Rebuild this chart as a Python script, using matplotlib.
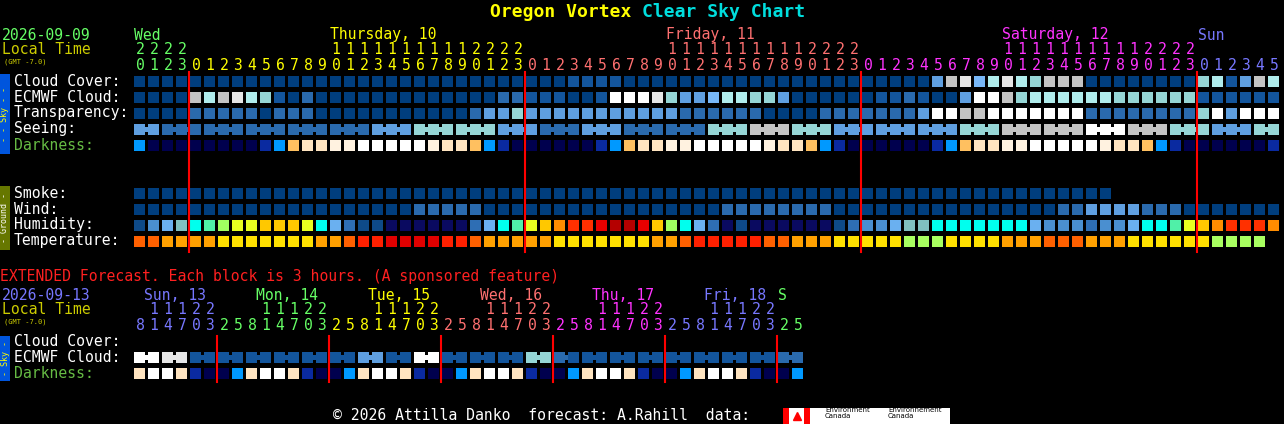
import matplotlib
matplotlib.use('Agg')
import matplotlib.pyplot as plt
from matplotlib.patches import Rectangle

# ---- data (hourly, 82 columns: Wed 20h .. Sun 5h) ----
cloud_cover = [0]*31 + [1]*4 + [0]*22 + [3, 7, 8, 4, 6, 8, 6, 5, 7, 7, 7] + [0]*8 + [5, 6, 1, 3, 7, 6]
ecmwf_cloud = ([0, 0, 0, 0, 7, 6, 7, 8, 6, 5, 1, 0, 2] + [0]*13 + [2, 2]
               + [1, 1, 1, 0, 0, 1, 9, 9, 9, 8, 5, 3, 3, 4, 6, 6, 5, 5, 3] + [0]*6
               + [1, 1, 2, 1, 0, 0, 3, 9, 9, 7, 5] + [6]*6 + [5]*6 + [1]*6)
transparency = ([0, 0, 0, 0, 2, 2, 2, 2, 2, 0, 2, 2, 2] + [0]*11 + [2, 3, 3, 5] + [3]*11
                + [2]*6 + [0]*4 + [2]*7 + [3, 9, 9, 7, 7] + [9]*7 + [2]*8 + [5, 9, 3, 9, 9, 9])
seeing = ([3, 3] + [2]*15 + [3]*3 + [5]*6 + [3]*3 + [2]*3 + [3]*3 + [2]*6 + [5]*3 + [7]*3
          + [5]*3 + [3]*6 + [3]*3 + [5]*3 + [7]*6 + [9]*3 + [7]*3 + [5]*3 + [3]*3 + [5]*2)
seeing_groups = [0, 0] + [g for g in range(1, 28) for _ in range(3)][:80]
darkness = [2, 0, 0, 0, 0, 0, 0, 0, 0, 1, 2, 3, 4, 4, 5, 5, 6, 6, 6, 6, 6, 5, 4, 4, 3, 2, 1, 0,
            0, 0, 0, 0, 0, 1, 2, 3, 4, 4, 5, 5, 6, 6, 6, 6, 6, 5, 4, 4, 3, 2, 1, 0,
            0, 0, 0, 0, 0, 1, 2, 3, 4, 4, 5, 5, 6, 6, 6, 6, 6, 5, 4, 4, 3, 2, 1, 0,
            0, 0, 0, 0, 0, 1]
smoke = [0]*70
wind = [0]*20 + [2]*5 + [0]*17 + [2]*8 + [0]*16 + [2, 2, 3, 3, 3, 3, 2, 2, 2] + [0]*7
humidity = list("DSLGCAYZZOOOZCLMDDNNNNNNMLCAZOPRREKKEOYCL"
                "MNDNNNNNNDMSSLGGCCCCCCCLSSSMSSLCCAZOPRRRP")
temperature = list("aabbbbcccccccbbaddeeeeddabbbbbcccccccbbad"
                   "ddddaabbbcccccfffccccbbbaaabbbccccccffff")

hour_labels = [20, 21, 22, 23] + list(range(24))*3 + list(range(6))
day_of_col = [0]*4 + [1]*24 + [2]*24 + [3]*24 + [4]*6
day_names = ['Wed', 'Thursday, 10', 'Friday, 11', 'Saturday, 12', 'Sun']

# ---- extended forecast (3 hour blocks, 48 columns) ----
ext_ecmwf = [9, 9, 8, 8] + [1]*12 + [3, 3, 1, 1, 9, 9] + [1]*6 + [5, 5, 2] + [1]*15 + [2, 2]
ext_darkness = [4, 6, 6, 4, 1, 0, 0, 2]*6
ext_hours = [8, 11, 14, 17, 20, 23] + [2, 5, 8, 11, 14, 17, 20, 23]*5 + [2, 5]
ext_day_of_col = [0]*6 + [d for d in range(1, 6) for _ in range(8)] + [6, 6]
ext_day_names = ['Sun, 13', 'Mon, 14', 'Tue, 15', 'Wed, 16', 'Thu, 17', 'Fri, 18', 'S']

# ---- palettes ----
sky_pal = {0: '#003e7e', 1: '#13559c', 2: '#2a6aad', 3: '#5f9fe0', 4: '#78b8f8',
           5: '#95d5d5', 6: '#b0ecec', 7: '#c4c4c4', 8: '#e6e6e6', 9: '#ffffff'}
dark_pal = {0: '#00004e', 1: '#0a2aa0', 2: '#0099ff', 3: '#ffc060', 4: '#ffe4c0',
            5: '#fff2e0', 6: '#ffffff'}
hum_pal = {'N': '#0a0a60', 'D': '#0e4a88', 'M': '#2e6eb4', 'S': '#4a8fd0', 'L': '#6ab0f0',
           'G': '#80c0c0', 'C': '#00ffee', 'A': '#50f0a8', 'Y': '#a0ff60', 'Z': '#e8ff20',
           'O': '#ffc800', 'P': '#ff8c00', 'R': '#ff3000', 'E': '#e80000', 'K': '#b40000'}
temp_pal = {'a': '#ff6000', 'b': '#ffa000', 'c': '#ffe000', 'd': '#ff2000',
            'e': '#e00000', 'f': '#a8ff60'}
day_colors = ['#66ff66', '#ffff00', '#ff7070', '#ff33ff', '#7777ff']
ext_day_colors = ['#7777ff', '#66ff66', '#ffff00', '#ff7070', '#ff33ff', '#7777ff', '#66ff66']

X0, PITCH, TILE = 134, 14, 11
MONO = 'DejaVu Sans Mono'
FS = 10.6

fig = plt.figure(figsize=(12.84, 4.24), dpi=100, facecolor='black')
ax = fig.add_axes([0, 0, 1, 1])
ax.set_xlim(0, 1284)
ax.set_ylim(424, 0)
ax.axis('off')
ax.set_facecolor('black')


def txt(x, y, s, color, size=FS, **kw):
    ax.text(x, y, s, color=color, fontsize=size, family=MONO, va='center', **kw)


def tile_row(values, pal, ytop, groups=None):
    for c, v in enumerate(values):
        x = X0 + c * PITCH
        ax.add_patch(Rectangle((x, ytop), TILE, TILE, color=pal[v], lw=0))
        if groups is not None and c + 1 < len(values) and groups[c] == groups[c + 1]:
            ax.add_patch(Rectangle((x + TILE, ytop + 3), PITCH - TILE, TILE - 6, color=pal[v], lw=0))


# title
ax.text(642, 12, 'Oregon Vortex ', color='#ffff00', fontsize=13, family=MONO,
        weight='bold', ha='right', va='center')
ax.text(642, 12, 'Clear Sky Chart', color='#00dddd', fontsize=13, family=MONO,
        weight='bold', ha='left', va='center')

# header
txt(2, 35, '2026-09-09', '#66ff66')
txt(2, 50, 'Local Time', '#cccc00')
txt(4, 62, '(GMT -7.0)', '#cccc00', size=5)
first_col = {}
for c, d in enumerate(day_of_col):
    first_col.setdefault(d, c)
for d, name in enumerate(day_names):
    # full days are labelled from the 10 o'clock column
    offset = 10 if day_of_col.count(d) == 24 else 0
    txt(X0 + (first_col[d] + offset) * PITCH, 35, name, day_colors[d])
for c, h in enumerate(hour_labels):
    cx = X0 + c * PITCH + 6
    col = day_colors[day_of_col[c]]
    if h >= 10:
        txt(cx, 50, str(h // 10), col, ha='center')
    txt(cx, 66, str(h % 10), col, ha='center')

# sky section
sky_rows = [('Cloud Cover:', '#ffffff'), ('ECMWF Cloud:', '#ffffff'), ('Transparency:', '#ffffff'),
            ('Seeing:', '#ffffff'), ('Darkness:', '#66bb44')]
for i, (lab, col) in enumerate(sky_rows):
    txt(14, 81 + 16 * i, lab, col)
tile_row(cloud_cover, sky_pal, 76)
tile_row(ecmwf_cloud, sky_pal, 92)
tile_row(transparency, sky_pal, 108)
tile_row(seeing, sky_pal, 124, groups=seeing_groups)
tile_row(darkness, dark_pal, 140)
ax.add_patch(Rectangle((0, 74), 10, 80, color='#0055dd', lw=0))
ax.text(5, 114, '- - Sky - -', color='#ffff00', fontsize=6, family=MONO, rotation=90,
        ha='center', va='center')

# ground section
ground_rows = ['Smoke:', 'Wind:', 'Humidity:', 'Temperature:']
for i, lab in enumerate(ground_rows):
    txt(14, 193 + 16 * i, lab, '#ffffff')
tile_row(smoke, sky_pal, 188)
tile_row(wind, sky_pal, 204)
tile_row(humidity, hum_pal, 220)
tile_row(temperature, temp_pal, 236)
ax.add_patch(Rectangle((0, 186), 10, 64, color='#667700', lw=0))
ax.text(5, 218, '- Ground -', color='#ffffff', fontsize=6, family=MONO, rotation=90,
        ha='center', va='center')

# midnight lines
for c in range(1, len(hour_labels)):
    if hour_labels[c] == 0:
        ax.plot([X0 + c * PITCH - 1.5] * 2, [72, 252], color='#ff0000', lw=1.5)

# extended forecast
txt(0, 276, 'EXTENDED Forecast. Each block is 3 hours. (A sponsored feature)', '#ff2020')
txt(2, 295, '2026-09-13', '#7777ff')
txt(2, 310, 'Local Time', '#cccc00')
txt(4, 322, '(GMT -7.0)', '#cccc00', size=5)
for d, name in enumerate(ext_day_names):
    cols = [c for c, dd in enumerate(ext_day_of_col) if dd == d]
    at8 = [c for c in cols if ext_hours[c] == 8]
    x = X0 + at8[0] * PITCH + 10 if at8 else X0 + cols[0] * PITCH
    txt(x, 295, name, ext_day_colors[d])
for c, h in enumerate(ext_hours):
    cx = X0 + c * PITCH + 6
    col = ext_day_colors[ext_day_of_col[c]]
    if h >= 10:
        txt(cx, 310, str(h // 10), col, ha='center')
    txt(cx, 325, str(h % 10), col, ha='center')
txt(14, 341, 'Cloud Cover:', '#ffffff')
txt(14, 357, 'ECMWF Cloud:', '#ffffff')
txt(14, 373, 'Darkness:', '#66bb44')
tile_row(ext_ecmwf, sky_pal, 352, groups=[c // 2 for c in range(48)])
tile_row(ext_darkness, dark_pal, 368)
ax.add_patch(Rectangle((0, 336), 10, 45, color='#0055dd', lw=0))
ax.text(5, 358, '- Sky -', color='#ffff00', fontsize=6, family=MONO, rotation=90,
        ha='center', va='center')
for c in range(1, len(ext_hours)):
    if ext_hours[c] < ext_hours[c - 1]:
        ax.plot([X0 + c * PITCH - 1.5] * 2, [336, 382], color='#ff0000', lw=1.5)

# footer
txt(333, 415, '\u00a9 2026 Attilla Danko  forecast: A.Rahill  data:', '#ffffff')
ax.add_patch(Rectangle((783, 408), 167, 16, color='#ffffff', lw=0))
ax.add_patch(Rectangle((783, 408), 6, 16, color='#ff0000', lw=0))
ax.add_patch(Rectangle((804, 408), 6, 16, color='#ff0000', lw=0))
ax.plot([797], [416], marker='^', color='#ff0000', ms=6)
ax.text(825, 413, 'Environment\nCanada', color='#000000', fontsize=5, va='center', linespacing=0.9)
ax.text(888, 413, 'Environnement\nCanada', color='#000000', fontsize=5, va='center', linespacing=0.9)

fig.savefig('out.png', dpi=100, facecolor='black')
